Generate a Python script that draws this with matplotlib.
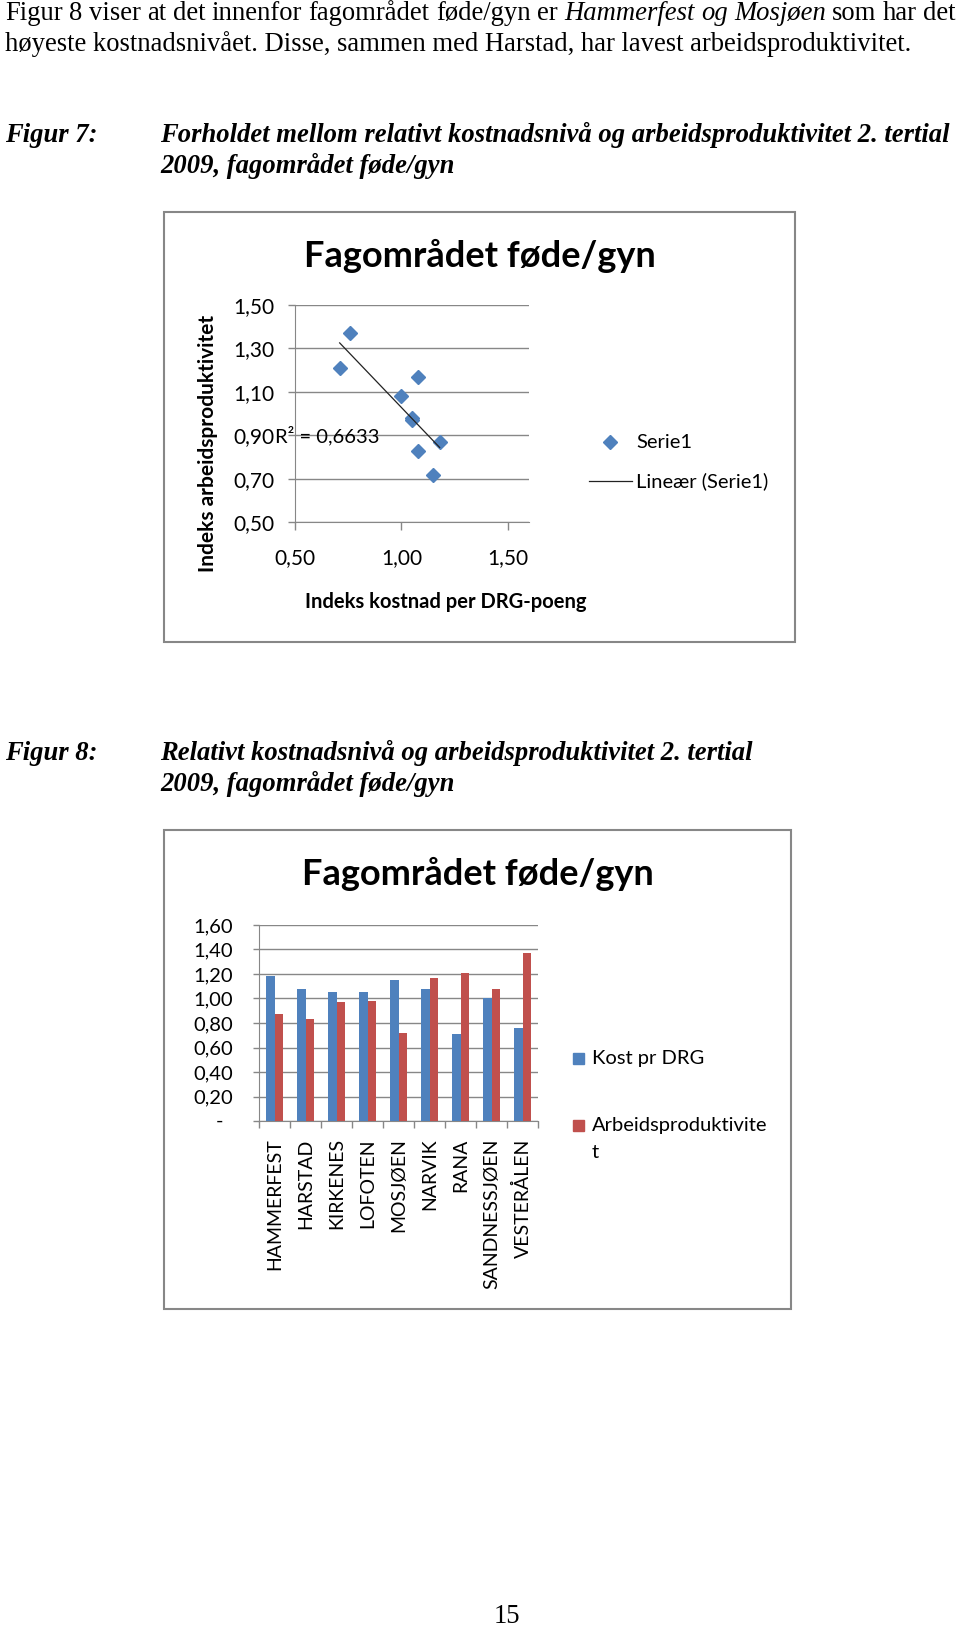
import numpy as np
import matplotlib
matplotlib.use("Agg")
import matplotlib.pyplot as plt
from matplotlib.patches import Rectangle
from matplotlib.lines import Line2D

# data (the scatter uses the same hospitals as the bars)
sykehus = ["HAMMERFEST", "HARSTAD", "KIRKENES", "LOFOTEN", "MOSJØEN",
           "NARVIK", "RANA", "SANDNESSJØEN", "VESTERÅLEN"]
kost_pr_drg = [1.18, 1.08, 1.05, 1.05, 1.15, 1.08, 0.71, 1.00, 0.76]
arbeidsprod = [0.87, 0.83, 0.97, 0.98, 0.72, 1.17, 1.21, 1.08, 1.37]
r2_tekst = "R² = 0,6633"

scatter_xticks = [0.5, 1.0, 1.5]
scatter_yticks = [0.5, 0.7, 0.9, 1.1, 1.3, 1.5]
bar_yticks = [0.0, 0.2, 0.4, 0.6, 0.8, 1.0, 1.2, 1.4, 1.6]

tittel = "Fagområdet føde/gyn"
serie_navn = ["Serie1", "Lineær (Serie1)"]
bar_navn = ["Kost pr DRG", "Arbeidsproduktivite", "t"]

# page text
linje1 = [("Figur 8 viser at det innenfor fagområdet føde/gyn er", "normal"),
          ("Hammerfest og Mosjøen", "italic"),
          ("som har det", "normal")]
linje2 = "høyeste kostnadsnivået. Disse, sammen med Harstad, har lavest arbeidsproduktivitet."
fig7_tekst = ["Forholdet mellom relativt kostnadsnivå og arbeidsproduktivitet 2. tertial",
              "2009, fagområdet føde/gyn"]
fig8_tekst = ["Relativt kostnadsnivå og arbeidsproduktivitet 2. tertial",
              "2009, fagområdet føde/gyn"]
sidetall = "15"

BLUE = "#4F81BD"
RED = "#C0504D"
GRID = "#878787"
SANS = "Lato"
SERIF = "Liberation Serif"
BODY = 19.2

W, H = 960, 1626
fig = plt.figure(figsize=(W / 100, H / 100), dpi=100)
renderer = fig.canvas.get_renderer()


def fx(x):
    return x / W


def fy(y):
    return 1 - y / H


def px_axes(x0, y0, x1, y1):
    # axes placed by pixel corners, origin at top left
    return fig.add_axes([fx(x0), fy(y1), (x1 - x0) / W, (y1 - y0) / H])


def komma(v):
    return f"{v:.2f}".replace(".", ",")


def justert_linje(deler, x0, base, x1, size):
    # one line of words with mixed styles, stretched out to x1
    ord_ = [(w, st) for txt, st in deler for w in txt.split()]
    arts = [fig.text(0, fy(base), w, fontsize=size, style=st, family=SERIF,
                     va="baseline") for w, st in ord_]
    bredder = [a.get_window_extent(renderer).width for a in arts]
    gap = (x1 - x0 - sum(bredder)) / (len(arts) - 1)
    x = x0
    for a, b in zip(arts, bredder):
        a.set_x(fx(x))
        x += b + gap


# ---- page text ----
justert_linje(linje1, 5, 20, 956, BODY)
fig.text(fx(5), fy(51), linje2, fontsize=BODY, family=SERIF, va="baseline")

for navn, linjer, base in [("Figur 7:", fig7_tekst, 142), ("Figur 8:", fig8_tekst, 760)]:
    fig.text(fx(5), fy(base), navn, fontsize=BODY, family=SERIF, style="italic",
             weight="bold", va="baseline")
    for i, t in enumerate(linjer):
        fig.text(fx(160), fy(base + 31 * i), t, fontsize=BODY, family=SERIF,
                 style="italic", weight="bold", va="baseline")

fig.text(fx(507), fy(1623), sidetall, fontsize=BODY, family=SERIF, ha="center",
         va="baseline")

# ---- chart frames ----
for x0, y0, x1, y1 in [(164, 212, 795, 642), (164, 830, 791, 1309)]:
    fig.patches.append(Rectangle((fx(x0), fy(y1)), (x1 - x0) / W, (y1 - y0) / H,
                                 transform=fig.transFigure, fill=False,
                                 edgecolor=GRID, lw=1.5))

# ---- figure 7: scatter ----
fig.text(fx(480), fy(267), tittel, fontsize=26, weight="bold", family=SANS,
         ha="center", va="baseline")

ax1 = px_axes(295, 305, 529, 522.5)
ax1.plot(kost_pr_drg, arbeidsprod, "D", color=BLUE, markersize=7.3, zorder=3)
k, m = np.polyfit(kost_pr_drg, arbeidsprod, 1)
xs = np.array([min(kost_pr_drg), max(kost_pr_drg)])
ax1.plot(xs, k * xs + m, color="#222222", lw=0.9, zorder=4)
ax1.text(0.405, 0.9, r2_tekst, fontsize=14.5, family=SANS, va="center", zorder=5)

ax1.set_xlim(0.5, 1.6)
ax1.set_ylim(0.5, 1.5)
ax1.set_xticks(scatter_xticks, [komma(v) for v in scatter_xticks])
ax1.set_yticks(scatter_yticks, [komma(v) for v in scatter_yticks])
ax1.grid(axis="y", color=GRID, lw=1)
ax1.set_axisbelow(True)
for s in ["top", "right"]:
    ax1.spines[s].set_visible(False)
for s in ["left", "bottom"]:
    ax1.spines[s].set_color(GRID)
ax1.tick_params(axis="y", length=5, width=1, color=GRID, pad=9.5, labelsize=15)
ax1.tick_params(axis="x", length=5.5, width=1, color=GRID, pad=13, labelsize=15)
for lab in ax1.get_xticklabels() + ax1.get_yticklabels():
    lab.set_family(SANS)

fig.text(fx(446), fy(608), "Indeks kostnad per DRG-poeng", fontsize=14.5,
         weight="bold", family=SANS, ha="center", va="baseline")
fig.text(fx(208), fy(443), "Indeks arbeidsproduktivitet", fontsize=15,
         weight="bold", family=SANS, ha="center", va="center", rotation=90)

# legend
fig.lines.append(Line2D([fx(610)], [fy(442)], marker="D", color=BLUE, markersize=7.3,
                        linestyle="none", transform=fig.transFigure))
fig.lines.append(Line2D([fx(589), fx(632)], [fy(481), fy(481)], color="#222222",
                        lw=0.9, transform=fig.transFigure))
fig.text(fx(636), fy(442), serie_navn[0], fontsize=14.5, family=SANS, va="center")
fig.text(fx(636), fy(481), serie_navn[1], fontsize=14.5, family=SANS, va="center")

# ---- figure 8: grouped bars ----
fig.text(fx(478), fy(885), tittel, fontsize=26, weight="bold", family=SANS,
         ha="center", va="baseline")

ax2 = px_axes(259, 925, 538, 1121)
pos = np.arange(len(sykehus))
bw = 0.28
ax2.bar(pos - bw / 2, kost_pr_drg, bw, color=BLUE, zorder=3)
ax2.bar(pos + bw / 2, arbeidsprod, bw, color=RED, zorder=3)

ax2.set_xlim(-0.5, len(sykehus) - 0.5)
ax2.set_ylim(0, 1.6)
ax2.set_yticks(bar_yticks, [komma(v) if v else "" for v in bar_yticks])
ax2.set_xticks(pos, sykehus, rotation=90)
ax2.set_xticks(np.arange(len(sykehus) + 1) - 0.5, minor=True)
ax2.grid(axis="y", color=GRID, lw=1)
ax2.set_axisbelow(True)
for s in ["top", "right"]:
    ax2.spines[s].set_visible(False)
for s in ["left", "bottom"]:
    ax2.spines[s].set_color(GRID)
ax2.tick_params(axis="y", length=4.5, width=1, color=GRID, pad=14, labelsize=14.5)
ax2.tick_params(axis="x", which="major", length=0, pad=12.5, labelsize=14)
ax2.tick_params(axis="x", which="minor", length=5, width=1, color=GRID)
for lab in ax2.get_xticklabels() + ax2.get_yticklabels():
    lab.set_family(SANS)
# Excel shows zero as a dash
fig.text(fx(223.5), fy(1121), "-", fontsize=14.5, family=SANS, ha="right", va="center")

# legend
for farge, y in [(BLUE, 1058), (RED, 1125)]:
    fig.patches.append(Rectangle((fx(573), fy(y + 5.5)), 11 / W, 11 / H,
                                 transform=fig.transFigure, color=farge))
for navn, base in zip(bar_navn, [1064, 1131, 1158]):
    fig.text(fx(592), fy(base), navn, fontsize=14.5, family=SANS, va="baseline")

fig.savefig("out.png", dpi=100)
